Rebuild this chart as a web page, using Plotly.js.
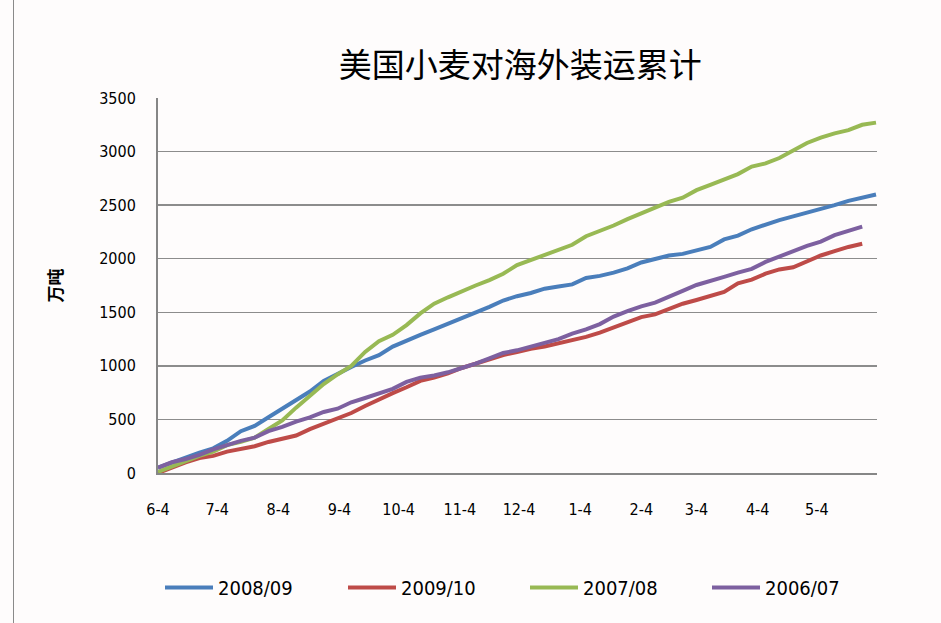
<!DOCTYPE html>
<html>
<head>
<meta charset="utf-8">
<script src="https://cdn.plot.ly/plotly-3.0.1.min.js"></script>
<style>
html,body{margin:0;padding:0;background:#fefcfc;}
#frame{position:absolute;left:0;top:0;width:941px;height:623px;}
#edge{position:absolute;left:13px;top:0;width:0;height:623px;border-left:1.5px solid #8a8a8a;}
#chart{position:absolute;left:0;top:0;width:941px;height:623px;}
</style>
</head>
<body>
<div id="frame"><div id="chart"></div><div id="edge"></div></div>
<script>
// Weekly dates (plotted on a common June–May axis)
const weekDates = [
 "2008-06-04","2008-06-11","2008-06-18","2008-06-25","2008-07-02","2008-07-09","2008-07-16","2008-07-23","2008-07-30",
 "2008-08-06","2008-08-13","2008-08-20","2008-08-27","2008-09-03","2008-09-10","2008-09-17","2008-09-24",
 "2008-10-01","2008-10-08","2008-10-15","2008-10-22","2008-10-29","2008-11-05","2008-11-12","2008-11-19","2008-11-26",
 "2008-12-03","2008-12-10","2008-12-17","2008-12-24","2008-12-31","2009-01-07","2009-01-14","2009-01-21","2009-01-28",
 "2009-02-04","2009-02-11","2009-02-18","2009-02-25","2009-03-04","2009-03-11","2009-03-18","2009-03-25",
 "2009-04-01","2009-04-08","2009-04-15","2009-04-22","2009-04-29","2009-05-06","2009-05-13","2009-05-20","2009-05-27","2009-06-03"
];
const seriesNames = ["2008/09","2009/10","2007/08","2006/07"];
const s2008_09 = [50,100,140,190,230,300,390,440,520,600,690,760,860,930,990,1050,1100,1180,1240,1290,1340,1390,1440,1490,1550,1610,1650,
 1680,1720,1740,1760,1820,1840,1870,1910,1965,2000,2030,2045,2080,2110,2180,2215,2275,2320,2360,2395,2430,2460,2500,2540,2570,2600];
const s2009_10 = [0,50,100,140,160,200,225,250,290,320,350,410,460,505,560,625,690,745,800,860,890,930,980,1020,1060,1100,1130,
 1160,1180,1210,1245,1270,1310,1360,1410,1455,1480,1530,1580,1615,1650,1690,1770,1805,1860,1900,1920,1970,2030,2070,2110,2140];
const s2007_08 = [10,60,110,160,200,260,290,330,410,490,610,720,830,920,1000,1130,1230,1290,1380,1490,1580,1640,1700,1750,1800,1860,1940,
 1990,2040,2080,2130,2210,2260,2310,2370,2425,2480,2530,2570,2640,2690,2740,2790,2860,2890,2940,3010,3080,3130,3170,3200,3250,3270];
const s2006_07 = [50,100,130,170,220,260,300,330,390,430,480,520,570,600,660,700,740,785,850,890,910,940,980,1020,1070,1120,1145,
 1180,1210,1250,1300,1340,1390,1460,1510,1555,1590,1650,1700,1755,1790,1830,1870,1905,1970,2020,2070,2120,2160,2220,2260,2300];
const seriesValues = [s2008_09, s2009_10, s2007_08, s2006_07];
const seriesColors = ["#4a7ebb","#be4b48","#98b954","#7d60a0"];
const legendIds = ["legend","legend2","legend3","legend4"];

const traces = seriesNames.map((n,i)=>({
  type:"scatter", mode:"lines", name:n, legend:legendIds[i],
  x: weekDates.slice(0, seriesValues[i].length),
  y: seriesValues[i],
  line:{color:seriesColors[i], width:4}
}));

const tickFont = {family:"'DejaVu Sans Condensed','Noto Sans',sans-serif", size:16, color:"#000"};
const legendFont = {family:"'DejaVu Sans Condensed','Noto Sans',sans-serif", size:20, color:"#000"};
const layout = {
  width:941, height:623,
  paper_bgcolor:"rgba(0,0,0,0)", plot_bgcolor:"rgba(0,0,0,0)",
  margin:{l:158, r:64, t:98, b:150},
  title:{text:"美国小麦对海外装运累计", x:0.553, xanchor:"center", y:0.895, yanchor:"middle",
         font:{family:"'Noto Sans CJK SC',sans-serif", size:33, color:"#000"}},
  xaxis:{type:"date", range:["2008-06-04","2009-06-03 12:00"], tick0:"2008-06-04", dtick:"M1",
         tickformat:"%-m-%-d", showgrid:false, zeroline:false, showline:true, linecolor:"#868686", linewidth:2,
         ticks:"", ticklabelstandoff:21, tickfont:tickFont, fixedrange:true},
  yaxis:{range:[0,3500], dtick:500, showgrid:true, gridcolor:"#8c8c8c", gridwidth:1.5, zeroline:false,
         showline:true, linecolor:"#868686", linewidth:2, ticks:"", ticklabelstandoff:17, tickfont:tickFont,
         title:{text:"<b>万吨</b>", standoff:32, font:{family:"'Noto Sans CJK SC',sans-serif", size:17, color:"#000"}}},
  showlegend:true
};
const legendLeftPx = [165, 348, 530, 712];
legendIds.forEach((id,i)=>{
  layout[id] = {orientation:"h", xref:"paper", x:(legendLeftPx[i]-5-158)/719, xanchor:"left",
                y:-0.305, yanchor:"middle", itemwidth:48, font:legendFont, bgcolor:"rgba(0,0,0,0)"};
});
Plotly.newPlot("chart", traces, layout, {displayModeBar:false, staticPlot:true});
</script>
</body>
</html>
